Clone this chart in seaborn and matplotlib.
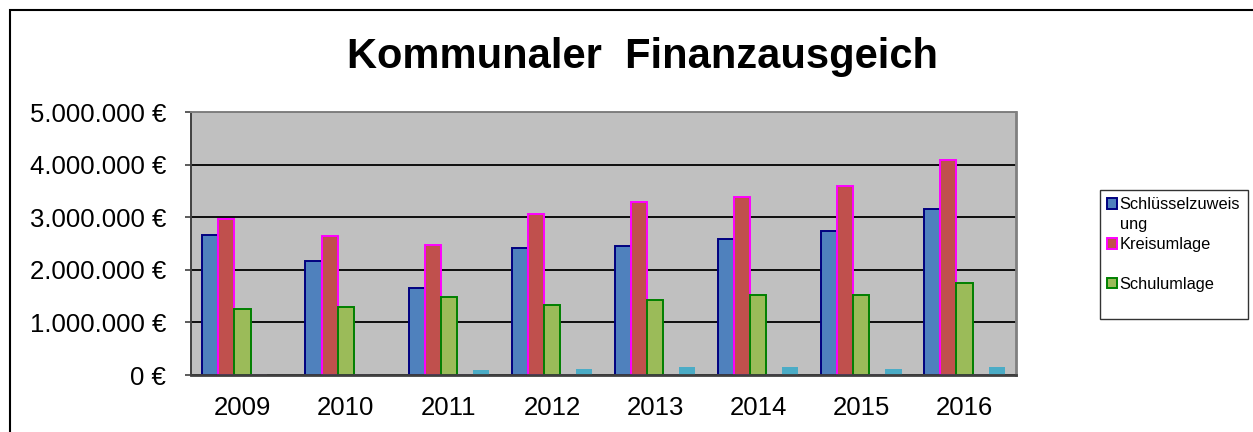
import pandas as pd
import numpy as np
import matplotlib
matplotlib.use("Agg")
import matplotlib.pyplot as plt
import matplotlib.patches as mpatches
from matplotlib.ticker import FuncFormatter, MultipleLocator
import seaborn as sns

# Data (EUR)
years = ['2009', '2010', '2011', '2012', '2013', '2014', '2015', '2016']
schluesselzuweisung = [2670000, 2170000, 1650000, 2410000, 2460000, 2580000, 2730000, 3160000]
kreisumlage = [2970000, 2650000, 2480000, 3070000, 3290000, 3390000, 3600000, 4090000]
schulumlage = [1250000, 1290000, 1480000, 1340000, 1430000, 1530000, 1530000, 1750000]
leer = [0, 0, 0, 0, 0, 0, 0, 0]
sonstige = [0, 0, 95000, 120000, 145000, 145000, 120000, 145000]

series_names = ['Schlüsselzuweisung', 'Kreisumlage', 'Schulumlage', 'leer', 'Sonstige']

df = pd.DataFrame({
    'Jahr': years * 5,
    'Betrag': schluesselzuweisung + kreisumlage + schulumlage + leer + sonstige,
    'Reihe': [n for n in series_names for _ in years],
})

fills = {'Schlüsselzuweisung': '#4F81BD', 'Kreisumlage': '#C0504D',
         'Schulumlage': '#9BBB59', 'leer': '#8064A2', 'Sonstige': '#4BACC6'}
edges = {'Schlüsselzuweisung': '#000080', 'Kreisumlage': '#FF00FF',
         'Schulumlage': '#008000', 'leer': '#604A7B', 'Sonstige': 'none'}

sns.set_style("white")
plt.rcParams['font.family'] = ['Liberation Sans', 'DejaVu Sans']
plt.rcParams['text.color'] = 'black'
plt.rcParams['xtick.color'] = 'black'
plt.rcParams['ytick.color'] = 'black'

fig = plt.figure(figsize=(12.53, 4.32), dpi=100)
ax = fig.add_axes([0.1524, 0.1319, 0.6585, 0.6088])

sns.barplot(data=df, x='Jahr', y='Betrag', hue='Reihe', hue_order=series_names,
            order=years, palette=fills, width=0.78, saturation=1,
            errorbar=None, legend=False, ax=ax)

for name, cont in zip(series_names, ax.containers):
    for bar in cont:
        bar.set_edgecolor(edges[name])
        bar.set_linewidth(1.4 if edges[name] != 'none' else 0)

ax.set_facecolor('#C0C0C0')
ax.set_ylim(0, 5000000)
ax.set_xlim(-0.5, len(years) - 0.5)
ax.yaxis.set_major_locator(MultipleLocator(1000000))
ax.yaxis.set_major_formatter(FuncFormatter(
    lambda v, p: f"{v:,.0f}".replace(',', '.') + ' €'))
ax.grid(axis='y', color='black', linewidth=1.3)
ax.set_axisbelow(True)
ax.set_xlabel('')
ax.set_ylabel('')

ax.tick_params(axis='y', labelsize=18.5, length=4, width=1.2, color='#404040',
               labelcolor='black', pad=14, left=True, direction='out')
ax.tick_params(axis='x', labelsize=18.5, length=0, pad=15, labelcolor='black')

ax.spines['left'].set_color('#404040')
ax.spines['bottom'].set_color('#404040')
ax.spines['left'].set_linewidth(1.4)
ax.spines['bottom'].set_linewidth(2.0)
ax.spines['right'].set_color('#808080')
ax.spines['top'].set_color('#808080')
ax.spines['right'].set_linewidth(2.0)
ax.spines['top'].set_linewidth(1.4)

fig.text(0.513, 0.868, 'Kommunaler  Finanzausgeich', ha='center', va='center',
         fontsize=30, fontweight='bold', color='black')

# legend: one row per text line, like the wrapped Excel legend
legend_rows = [('Schlüsselzuweisung', 'Schlüsselzuweis'), (None, 'ung'),
               ('Kreisumlage', 'Kreisumlage'), (None, ' '),
               ('Schulumlage', 'Schulumlage'), (None, ' ')]
handles, labels = [], []
for name, lab in legend_rows:
    if name is None:
        handles.append(mpatches.Patch(facecolor='none', edgecolor='none'))
    else:
        handles.append(mpatches.Patch(facecolor=fills[name], edgecolor=edges[name], linewidth=1.4))
    labels.append(lab)
leg = fig.legend(handles, labels, loc='upper left',
                 bbox_to_anchor=(1100 / 1253, 1 - 190 / 432),
                 fontsize=11.8, frameon=True, fancybox=False, edgecolor='black',
                 handlelength=0.6, handleheight=0.6, handletextpad=0.15,
                 labelspacing=0.3, borderpad=0.45, borderaxespad=0)
leg.get_frame().set_linewidth(1.0)

# outer chart border
fig.patches.append(mpatches.Rectangle((10 / 1253, -0.1), 1.2, 1 - 10 / 432 + 0.1,
                                      transform=fig.transFigure, fill=False,
                                      edgecolor='black', linewidth=1.5))

fig.savefig('out.png', dpi=100)
